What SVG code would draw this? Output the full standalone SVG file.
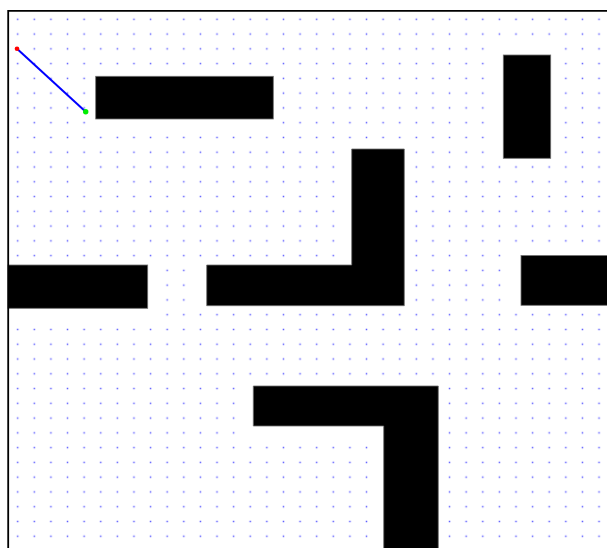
<svg xmlns="http://www.w3.org/2000/svg" width="607" height="548" viewBox="0 0 607 548">
<style>
.obs{fill:#000;stroke:#707070;stroke-width:0.8}
.mask{fill:#fff}
</style>
<defs>
<pattern id="grid" patternUnits="userSpaceOnUse" x="9.395" y="11.915" width="16.61" height="14.77">
<rect x="7.555" y="6.635" width="1.5" height="1.5" fill="#5a5aff"/>
</pattern>
</defs>
<rect width="607" height="548" fill="#fff"/>
<g id="free-grid">
<rect x="9.4" y="11.9" width="597.6" height="536.1" fill="url(#grid)"/>
<g id="clearance">
<rect class="mask" x="92.5" y="71.0" width="182.7" height="59.1"/>
<rect class="mask" x="491.1" y="41.4" width="66.4" height="118.2"/>
<rect class="mask" x="0" y="263.0" width="158.9" height="59.1"/>
<rect class="mask" x="341.6" y="144.8" width="66.4" height="162.5"/>
<rect class="mask" x="192.1" y="263.0" width="215.9" height="44.3"/>
<rect class="mask" x="507.7" y="248.2" width="99.3" height="59.1"/>
<rect class="mask" x="241.9" y="381.2" width="199.3" height="59.1"/>
<rect class="mask" x="374.8" y="425.5" width="66.4" height="122.5"/>
</g>
</g>
<g id="obstacle-a"><rect class="obs" x="95.7" y="76.3" width="177.6" height="42.7"/></g>
<g id="obstacle-b"><rect class="obs" x="503.3" y="55" width="47.4" height="103.3"/></g>
<g id="obstacle-c"><rect class="obs" x="8" y="265" width="139.7" height="43.3"/></g>
<g id="obstacle-d"><path class="obs" d="M351.7 149H404.3V305.7H206.7V265H351.7Z"/></g>
<g id="obstacle-e"><rect class="obs" x="521" y="255.5" width="90" height="49.8"/></g>
<g id="obstacle-f"><path class="obs" d="M253.3 386H438.3V552H383.7V426H253.3Z"/></g>
<g id="border"><path d="M8.2 552V10.9H612" fill="none" stroke="#000" stroke-width="1.8"/></g>
<g id="connectors">
<line x1="17" y1="48.7" x2="85.7" y2="111.7" stroke="#0000ff" stroke-width="2"/>
</g>
<g id="start"><circle cx="17" cy="48.7" r="2.3" fill="#ff0000"/></g>
<g id="goal"><circle cx="85.7" cy="111.7" r="2.7" fill="#00ee00"/></g>
</svg>
